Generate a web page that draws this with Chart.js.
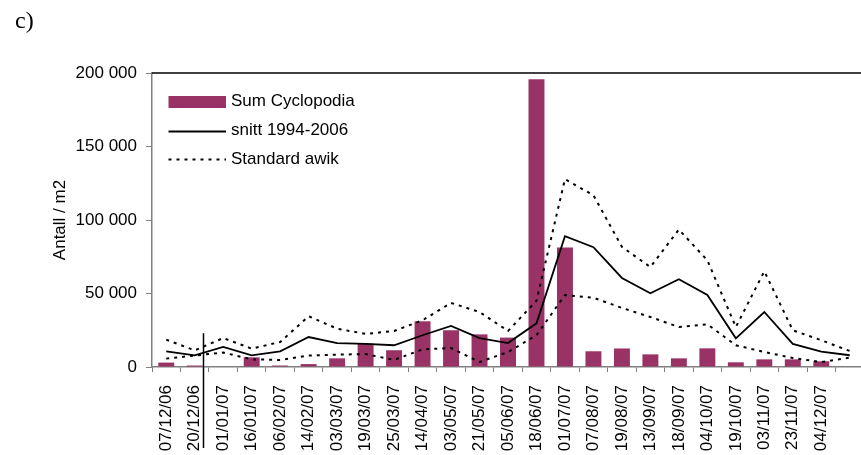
<!DOCTYPE html>
<html>
<head>
<meta charset="utf-8">
<script src="https://cdn.jsdelivr.net/npm/chart.js@4.4.1/dist/chart.umd.min.js"></script>
<style>
  html, body { margin: 0; padding: 0; background: #fff; overflow: hidden; }
  #wrap { position: absolute; left: 0; top: 0; width: 864px; height: 455px; }
</style>
</head>
<body>
<div id="wrap"><canvas id="chart" width="864" height="455"></canvas></div>
<script>
// Sampling dates (last slot has no label)
const dates = [
  "07/12/06", "20/12/06", "01/01/07", "16/01/07", "06/02/07", "14/02/07",
  "03/03/07", "19/03/07", "25/03/07", "14/04/07", "03/05/07", "21/05/07",
  "05/06/07", "18/06/07", "01/07/07", "07/08/07", "19/08/07", "13/09/07",
  "18/09/07", "04/10/07", "19/10/07", "03/11/07", "23/11/07", "04/12/07", ""
];

// Sum Cyclopodia, individuals per m2
const sumCyclopodia = [
  3000, 1000, 0, 6600, 1000, 2000, 5900, 15900, 11400, 31100, 25000, 22200,
  20000, 195800, 81300, 10700, 12600, 8600, 5900, 12700, 3200, 5200, 5200, 3900, null
];

// Mean 1994-2006
const snitt = [
  10700, 7900, 13600, 7900, 10700, 20400, 16300, 15700, 14800, 21600, 27900, 19700,
  16300, 29700, 89000, 81500, 60600, 50200, 59700, 49000, 19500, 37400, 15700, 10500, 8000
];

// Mean +/- one standard deviation
const stdUpper = [
  18600, 11300, 19700, 12500, 17000, 34500, 26100, 22500, 24500, 31800, 43600, 37400,
  24500, 45000, 127800, 116800, 81700, 68000, 93500, 72600, 27200, 65100, 25000, 18200, 10900
];
const stdLower = [
  5700, 7800, 9800, 5200, 4800, 7800, 8400, 8800, 4800, 12000, 12900, 3400,
  10200, 21600, 49000, 47100, 40200, 34000, 27200, 29100, 14800, 10200, 6100, 3400, 6400
];

const yTicks = [0, 50000, 100000, 150000, 200000];

const FONT = '"Liberation Sans", Arial, sans-serif';
const barColor = "#993366";
const axisGray = "#808080";
const dotDash = [3, 5];

function formatNumber(v) {
  return String(v).replace(/\B(?=(\d{3})+(?!\d))/g, " ");
}

// Panel letter, plot frame top, year separator and legend
const decorations = {
  id: "decorations",
  afterDraw(chart) {
    const { ctx, chartArea, scales } = chart;
    ctx.save();

    ctx.fillStyle = "#000";
    ctx.font = '24px "Liberation Serif", "Times New Roman", serif';
    ctx.textBaseline = "alphabetic";
    ctx.textAlign = "left";
    ctx.fillText("c)", 15, 27.5);

    // top edge of the plot area
    ctx.strokeStyle = "#000";
    ctx.lineWidth = 1.5;
    ctx.beginPath();
    ctx.moveTo(chartArea.left, chartArea.top);
    ctx.lineTo(chart.width, chartArea.top);
    ctx.stroke();

    // separator between 2006 and 2007
    const sx = Math.round(scales.x.getPixelForValue(1.3)) + 0.5;
    ctx.lineWidth = 1.5;
    ctx.beginPath();
    ctx.moveTo(sx, scales.y.getPixelForValue(23000));
    ctx.lineTo(sx, chartArea.bottom + 81);
    ctx.stroke();

    // legend
    const x0 = 168.5, x1 = 226, tx = 231;
    const ds = chart.data.datasets;
    ctx.fillStyle = barColor;
    ctx.fillRect(x0, 96, x1 - x0, 12);

    ctx.strokeStyle = "#000";
    ctx.lineWidth = 1.8;
    ctx.beginPath();
    ctx.moveTo(x0, 131.5);
    ctx.lineTo(x1, 131.5);
    ctx.stroke();

    ctx.setLineDash(dotDash);
    ctx.lineWidth = 2;
    ctx.beginPath();
    ctx.moveTo(x0, 159.5);
    ctx.lineTo(x1, 159.5);
    ctx.stroke();
    ctx.setLineDash([]);

    ctx.fillStyle = "#000";
    ctx.font = "17px " + FONT;
    ctx.fillText(ds[0].label, tx, 105.7);
    ctx.fillText(ds[1].label, tx, 135);
    ctx.fillText(ds[2].label, tx, 164.3);

    ctx.restore();
  },
};

const ctx = document.getElementById("chart").getContext("2d");

const data = {
  labels: dates,
  datasets: [
    {
      type: "bar",
      label: "Sum Cyclopodia",
      data: sumCyclopodia,
      backgroundColor: barColor,
      borderWidth: 0,
      barPercentage: 0.56,
      categoryPercentage: 1,
      order: 3,
    },
    {
      type: "line",
      label: "snitt 1994-2006",
      data: snitt,
      borderColor: "#000",
      borderWidth: 1.8,
      pointRadius: 0,
      tension: 0,
      order: 0,
    },
    {
      type: "line",
      label: "Standard awik",
      data: stdUpper,
      borderColor: "#000",
      borderWidth: 2,
      borderDash: dotDash,
      pointRadius: 0,
      tension: 0,
      order: 1,
    },
    {
      type: "line",
      label: "Standard awik (nedre)",
      data: stdLower,
      borderColor: "#000",
      borderWidth: 2,
      borderDash: dotDash,
      pointRadius: 0,
      tension: 0,
      order: 2,
    },
  ],
};

const options = {
  responsive: false,
  animation: false,
  devicePixelRatio: 1,
  layout: {
    padding: { left: 0, right: 0, top: 73, bottom: 0 },
  },
  plugins: {
    legend: { display: false },
    tooltip: { enabled: false },
  },
  scales: {
    x: {
      type: "category",
      offset: true,
      grid: {
        offset: true,
        drawOnChartArea: false,
        drawTicks: true,
        tickLength: 5,
        color: axisGray,
      },
      border: { display: true, color: axisGray, width: 1.5 },
      ticks: {
        autoSkip: false,
        minRotation: 90,
        maxRotation: 90,
        padding: 13,
        color: "#000",
        font: { family: FONT, size: 17 },
      },
      afterFit(scale) {
        scale.height = 88;
        scale.paddingLeft = 0;
        scale.paddingRight = 0;
      },
    },
    y: {
      min: 0,
      max: 200000,
      afterBuildTicks(scale) {
        scale.ticks = yTicks.map((v) => ({ value: v }));
      },
      grid: {
        drawOnChartArea: false,
        drawTicks: true,
        tickLength: 6,
        color: axisGray,
      },
      border: { display: true, color: axisGray, width: 1.5 },
      ticks: {
        padding: 9,
        color: "#000",
        font: { family: FONT, size: 17 },
        callback: function (value) {
          return formatNumber(value);
        },
      },
      title: {
        display: true,
        text: "Antall / m2",
        color: "#000",
        font: { family: FONT, size: 17 },
        padding: { top: 50, bottom: 0 },
      },
      afterFit(scale) {
        scale.width = 152;
      },
    },
  },
};

new Chart(ctx, {
  type: "bar",
  data: data,
  options: options,
  plugins: [decorations],
});
</script>
</body>
</html>
